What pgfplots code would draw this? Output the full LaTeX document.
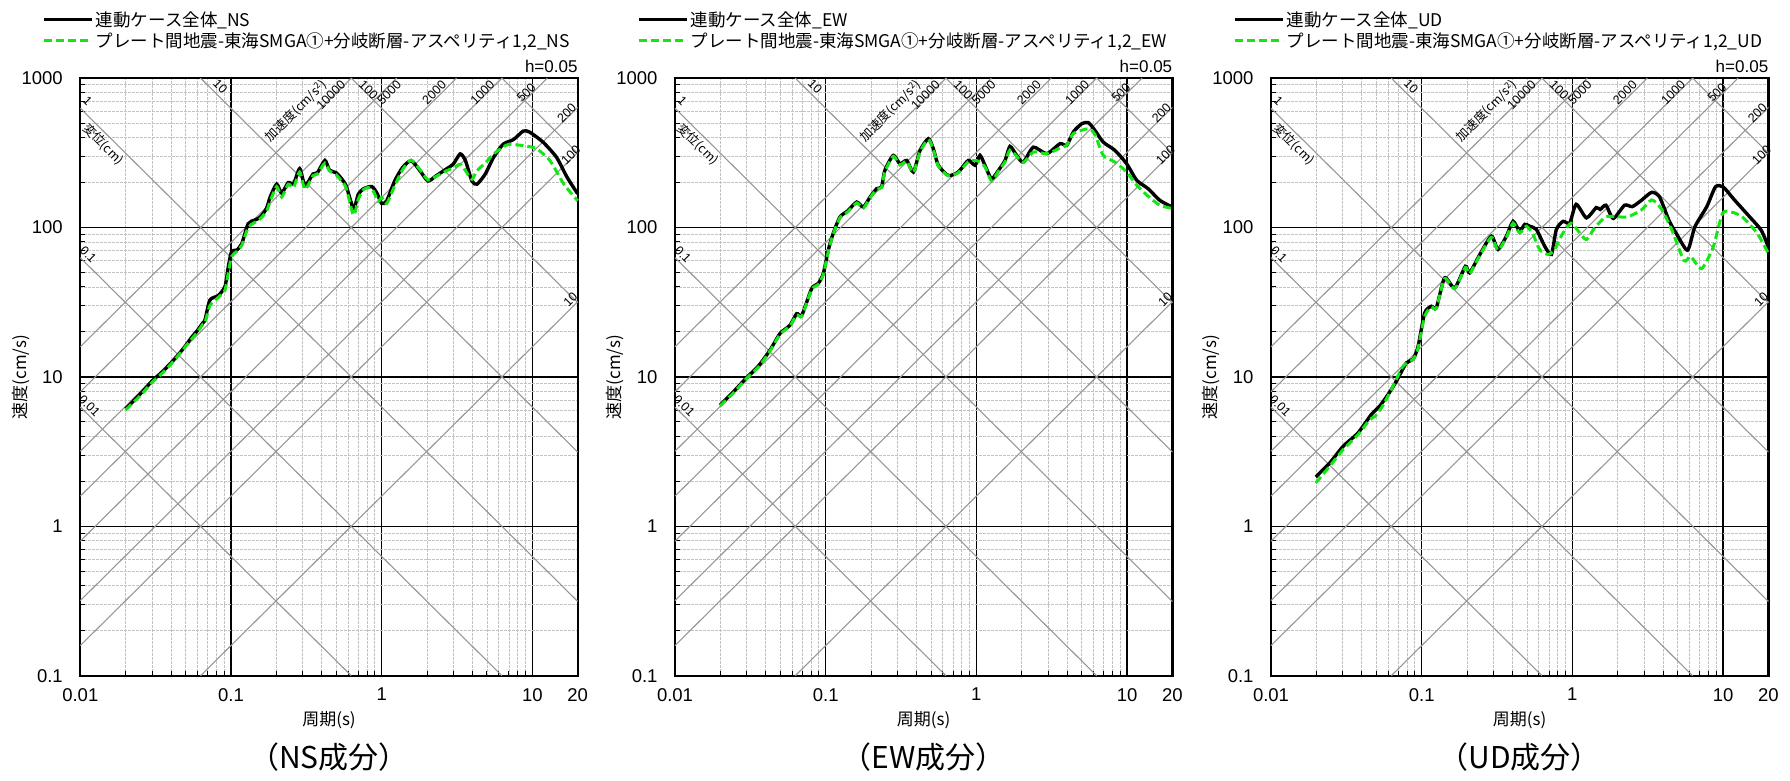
\documentclass[border=0pt]{standalone}
\usepackage{fontspec}
\setmainfont{Liberation Sans}
\newfontfamily\jp{Noto Sans CJK JP}
\usepackage{pgfplots}
\pgfplotsset{compat=1.18}

\definecolor{diagc}{RGB}{150,150,150}
\definecolor{minc}{RGB}{195,195,195}
\definecolor{grn}{RGB}{20,230,20}
\newcommand{\fs}[1]{\fontsize{#1}{#1}\selectfont}

\tikzset{
  diag/.style={diagc, line width=1.1pt},
  bk/.style={black, line width=3.4pt, smooth, tension=0.4},
  gr/.style={grn, line width=3pt, dash pattern=on 8pt off 4pt, smooth, tension=0.4},
  dl/.style={font=\fs{12.5}, inner sep=0pt},
}

\pgfplotsset{
    xmin=0.01, xmax=20, ymin=0.1, ymax=1000,
    scale only axis, width=497.4pt, height=597.6pt,
    clip=false,
    axis line style={line width=2.3pt},
    xtick={0.01,0.1,1,10,20}, xticklabels={0.01,0.1,1,10,20},
    ytick={0.1,1,10,100,1000}, yticklabels={0.1,1,10,100,1000},
    minor xtick={0.02,0.03,0.04,0.05,0.06,0.07,0.08,0.09,0.2,0.3,0.4,0.5,0.6,0.7,0.8,0.9,2,3,4,5,6,7,8,9},
    minor ytick={0.2,0.3,0.4,0.5,0.6,0.7,0.8,0.9,2,3,4,5,6,7,8,9,20,30,40,50,60,70,80,90,200,300,400,500,600,700,800,900},
    grid=both,
    major grid style={black, line width=1.2pt},
    minor grid style={minc, line width=0.9pt, dash pattern=on 2.5pt off 1.5pt},
    xtick pos=bottom, ytick pos=left, tick align=inside,
    major tick length=4pt, minor tick length=5pt,
    tick style={black, line width=1pt},
    ticklabel style={font=\fs{18.5}},
    xticklabel style={yshift=-9pt},
    yticklabel style={xshift=-14pt},
    xlabel={\jp 周期(s)}, ylabel={\jp 速度(cm/s)},
    xlabel style={font=\fs{17}, at={(axis description cs:0.5,-0.0736)}, anchor=center},
    ylabel style={font=\fs{17}, at={(axis description cs:-0.12,0.5)}, anchor=center},
    legend cell align=left,
    legend style={draw=none, fill=none, at={(axis description cs:0,1)}, anchor=south west,
      xshift=-41pt, yshift=25pt, font=\jp\fs{17.5}, row sep=1pt},
    legend image code/.code={\draw[#1] (0pt,0pt) -- (48pt,0pt);},
}

\newcommand{\diaglines}{%
\addplot[diag, forget plot] coordinates {(0.01,6.2832) (0.62832,0.1)};
\addplot[diag, forget plot] coordinates {(0.01,62.832) (6.2832,0.1)};
\addplot[diag, forget plot] coordinates {(0.01,628.32) (20,0.31416)};
\addplot[diag, forget plot] coordinates {(0.062832,1000) (20,3.1416)};
\addplot[diag, forget plot] coordinates {(0.62832,1000) (20,31.416)};
\addplot[diag, forget plot] coordinates {(6.2832,1000) (20,314.16)};
\addplot[diag, forget plot] coordinates {(0.062832,0.1) (20,31.831)};
\addplot[diag, forget plot] coordinates {(0.01,0.15915) (20,318.31)};
\addplot[diag, forget plot] coordinates {(0.01,0.31831) (20,636.62)};
\addplot[diag, forget plot] coordinates {(0.01,0.79577) (12.566,1000)};
\addplot[diag, forget plot] coordinates {(0.01,1.5915) (6.2832,1000)};
\addplot[diag, forget plot] coordinates {(0.01,3.1831) (3.1416,1000)};
\addplot[diag, forget plot] coordinates {(0.01,7.9577) (1.2566,1000)};
\addplot[diag, forget plot] coordinates {(0.01,15.915) (0.62832,1000)};
}
\newcommand{\diaglabels}{%
\node[dl, rotate=-45] at (axis cs:0.0112,700) {1};
\node[dl, rotate=-45] at (axis cs:0.0142,360) {\jp 変位(cm)};
\node[dl, rotate=-45] at (axis cs:0.0113,66) {0.1};
\node[dl, rotate=-45] at (axis cs:0.0115,6.4) {0.01};
\node[dl, rotate=-45] at (axis cs:0.085,880) {10};
\node[dl, rotate=-45] at (axis cs:0.818,836) {100};
\node[dl, rotate=45] at (axis cs:0.27,600) {\jp 加速度(cm/s\textsuperscript{2})};
\node[dl, rotate=45] at (axis cs:0.46,770) {10000};
\node[dl, rotate=45] at (axis cs:1.12,805) {5000};
\node[dl, rotate=45] at (axis cs:2.23,805) {2000};
\node[dl, rotate=45] at (axis cs:4.66,805) {1000};
\node[dl, rotate=45] at (axis cs:9.1,800) {500};
\node[dl, rotate=45] at (axis cs:16.9,585) {200};
\node[dl, rotate=45] at (axis cs:18.0,305) {100};
\node[dl, rotate=45] at (axis cs:17.9,33) {10};
\node[font=\fs{17}, anchor=south east, inner sep=0pt] at (axis cs:20,1080) {h=0.05};
}

\begin{document}
\begin{tikzpicture}
\useasboundingbox (0,0) rectangle (1790pt,780pt);

% ---------------- NS ----------------
\begin{loglogaxis}[at={(80.3pt,104.3pt)}, anchor=south west]
\diaglines
\addplot[bk] coordinates {(0.02,6.1) (0.025,7.7) (0.03,9.4) (0.035,10.8) (0.04,12.4) (0.045,14.2) (0.05,16.2) (0.055,18.5) (0.06,20.5) (0.065,23) (0.0672,24) (0.0725,32.7) (0.0822,35) (0.0912,40.2) (0.096,54.6) (0.101,69.2) (0.109,70.5) (0.118,78) (0.13,106) (0.1436,112) (0.156,117) (0.172,134) (0.182,160) (0.201,195) (0.217,170) (0.24,200) (0.26,195) (0.2857,248) (0.31,191) (0.35,228) (0.375,233) (0.42,281) (0.45,243) (0.5,232) (0.53,218) (0.58,191) (0.65,134) (0.70,167) (0.76,182) (0.86,188) (0.93,170) (1.0,145) (1.08,151) (1.22,205) (1.38,253) (1.57,280) (1.79,241) (2.03,205) (2.3,222) (2.7,247) (2.99,266) (3.32,311) (3.6,280) (3.97,205) (4.29,195) (4.87,228) (5.52,294) (6.4,361) (7.5,388) (8.7,442) (9.6,435) (11.8,372) (14.5,294) (17.0,217) (20,168)};
\addlegendentry{連動ケース全体\_NS}
\addplot[gr] coordinates {(0.02,6.0) (0.025,7.5) (0.03,9.2) (0.035,10.6) (0.04,12.2) (0.045,14) (0.05,16) (0.055,18) (0.06,20) (0.065,22.5) (0.0672,23) (0.0725,30) (0.0822,34) (0.0912,38) (0.096,50) (0.101,64) (0.109,69) (0.118,76) (0.13,100) (0.1436,108) (0.156,114) (0.172,128) (0.182,150) (0.201,188) (0.217,160) (0.24,195) (0.26,185) (0.2857,235) (0.31,180) (0.35,222) (0.375,228) (0.42,270) (0.45,240) (0.5,225) (0.53,210) (0.58,185) (0.65,121) (0.70,155) (0.76,180) (0.82,185) (0.88,175) (0.95,150) (1.0,159) (1.08,145) (1.22,190) (1.38,245) (1.57,283) (1.79,245) (2.03,208) (2.3,220) (2.7,240) (2.99,250) (3.32,265) (3.6,240) (3.97,210) (4.29,240) (4.87,270) (5.52,310) (6.4,345) (7.0,361) (8.7,353) (10.6,338) (13.1,280) (16.2,195) (20,151)};
\addlegendentry{プレート間地震-東海SMGA①+分岐断層-アスペリティ1,2\_NS}
\diaglabels
\node[font=\jp\fs{30}] at (axis cs:0.447,0.0286) {（NS成分）};
\end{loglogaxis}

% ---------------- EW ----------------
\begin{loglogaxis}[at={(675pt,104.3pt)}, anchor=south west]
\diaglines
\addplot[bk] coordinates {(0.0199,6.47) (0.0244,7.94) (0.0299,9.9) (0.0357,11.8) (0.0427,15.1) (0.0497,19.5) (0.058,22.2) (0.0642,26.5) (0.0695,25.9) (0.0807,39) (0.0893,42.2) (0.0964,49.2) (0.104,70.5) (0.112,91) (0.1244,117.6) (0.141,130) (0.1606,148) (0.178,137) (0.197,160) (0.218,182) (0.235,187) (0.247,241) (0.281,304) (0.311,267) (0.345,281) (0.382,235) (0.423,328) (0.48,393) (0.518,337) (0.559,261) (0.651,223) (0.759,235) (0.883,281) (0.98,261) (1.057,304) (1.14,261) (1.26,212) (1.40,241) (1.55,281) (1.67,349) (1.85,304) (2.05,274) (2.39,345) (2.93,312) (3.59,364) (3.98,355) (4.40,436) (5.0,495) (5.54,503) (6.12,447) (6.95,373) (8.32,328) (9.94,267) (11.6,207) (13.8,182) (16.5,152) (20,137)};
\addlegendentry{連動ケース全体\_EW}
\addplot[gr] coordinates {(0.0199,6.4) (0.0244,7.8) (0.0299,9.8) (0.0357,11.6) (0.0427,14.9) (0.0497,19.2) (0.058,22) (0.0642,26) (0.0695,25.5) (0.0807,38.5) (0.0893,41.5) (0.0964,48.5) (0.104,69) (0.112,90) (0.1244,116) (0.141,128) (0.1606,146) (0.178,135) (0.197,158) (0.218,180) (0.235,185) (0.247,236) (0.281,300) (0.311,262) (0.345,278) (0.382,233) (0.423,322) (0.48,388) (0.518,333) (0.559,258) (0.651,222) (0.759,233) (0.883,275) (1.0,281) (1.14,255) (1.26,205) (1.40,238) (1.55,275) (1.67,330) (1.85,300) (2.05,272) (2.39,320) (2.93,312) (3.59,340) (3.98,355) (4.40,425) (5.54,458) (6.12,420) (6.95,304) (8.32,274) (9.94,235) (11.6,192) (13.8,162) (16.5,141) (20,134)};
\addlegendentry{プレート間地震-東海SMGA①+分岐断層-アスペリティ1,2\_EW}
\diaglabels
\node[font=\jp\fs{30}] at (axis cs:0.447,0.0286) {（EW成分）};
\end{loglogaxis}

% ---------------- UD ----------------
\begin{loglogaxis}[at={(1271pt,104.3pt)}, anchor=south west]
\diaglines
\addplot[bk] coordinates {(0.0198,2.14) (0.0245,2.65) (0.0301,3.43) (0.0378,4.22) (0.0463,5.6) (0.0526,6.37) (0.0598,7.62) (0.0679,9.35) (0.0791,12.4) (0.0876,13.1) (0.0946,16.0) (0.1047,26.8) (0.116,29.7) (0.125,29.0) (0.142,46.0) (0.1656,39.4) (0.195,55) (0.208,49.7) (0.243,65.9) (0.29,87.5) (0.321,71.3) (0.365,87.5) (0.404,110) (0.447,94.4) (0.483,105) (0.521,102) (0.577,97) (0.655,75) (0.726,66) (0.783,97) (0.867,110) (0.96,107) (1.06,143) (1.24,116) (1.44,136) (1.53,132) (1.67,141) (1.87,115) (2.22,141) (2.5,138) (2.87,152) (3.36,172) (3.79,160) (4.37,112) (4.9,91) (5.81,70.5) (6.5,101) (7.8,138) (8.9,187) (10.0,187) (11.9,153) (15,118) (17.9,96) (20,74)};
\addlegendentry{連動ケース全体\_UD}
\addplot[gr] coordinates {(0.0198,1.95) (0.0245,2.52) (0.0301,3.26) (0.0378,4.11) (0.0452,5.17) (0.049,5.45) (0.055,6.37) (0.0645,8.66) (0.0752,11.8) (0.0876,13.1) (0.0946,15.6) (0.1047,25.5) (0.116,29.4) (0.125,28.8) (0.142,45.5) (0.1656,39) (0.195,54) (0.208,49) (0.243,65) (0.29,86) (0.321,70.5) (0.365,86) (0.404,107) (0.447,92) (0.494,102) (0.548,90) (0.607,71) (0.69,66) (0.76,71) (0.867,92) (0.983,107) (1.10,94) (1.24,83) (1.41,100) (1.67,118) (1.97,118) (2.34,118) (2.87,131) (3.36,153) (3.88,134) (4.58,96) (5.5,60) (6.1,64) (7.2,53) (8.6,74) (9.9,124) (11.3,127) (13.4,118) (16.9,91) (20,67)};
\addlegendentry{プレート間地震-東海SMGA①+分岐断層-アスペリティ1,2\_UD}
\diaglabels
\node[font=\jp\fs{30}] at (axis cs:0.447,0.0286) {（UD成分）};
\end{loglogaxis}
\end{tikzpicture}
\end{document}
